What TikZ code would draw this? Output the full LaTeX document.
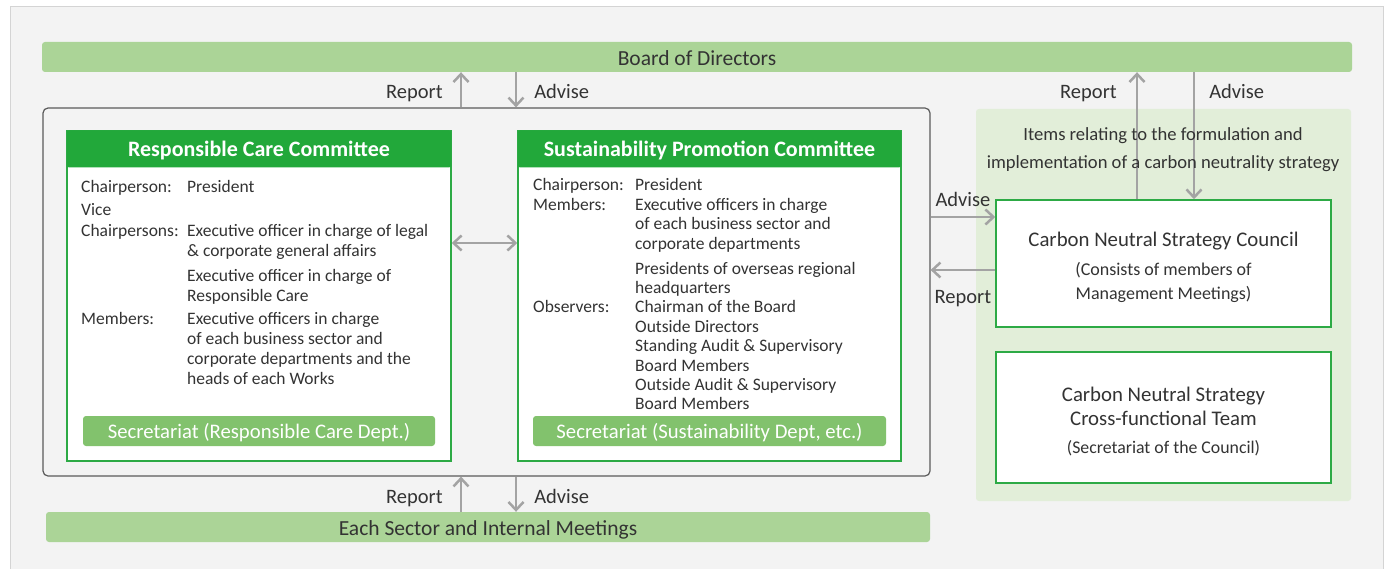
\documentclass[tikz,border=0pt]{standalone}
\usepackage{fontspec}
\setmainfont{Carlito}
\usetikzlibrary{arrows.meta}
\definecolor{panel}{HTML}{F3F3F3}
\definecolor{panelline}{HTML}{D4D4D4}
\definecolor{barg}{HTML}{ABD497}
\definecolor{headg}{HTML}{22A83A}
\definecolor{secg}{HTML}{82C26D}
\definecolor{cnpanel}{HTML}{E2EED9}
\definecolor{boxg}{HTML}{2DAA45}
\definecolor{arrgray}{HTML}{A3A3A3}
\definecolor{txt}{HTML}{333333}
\definecolor{bigline}{HTML}{5A5A5A}
\tikzset{
  bar/.style={fill=barg, rounded corners=3, inner sep=0, text height=16.5pt, text depth=0pt, text=txt, font=\fontsize{21.5}{22}\selectfont},
  cbox/.style={draw=boxg, line width=1.5, fill=white, inner sep=0},
  chead/.style={fill=headg, rounded corners=2, inner sep=0, text height=16pt, text depth=0pt, text=white, font=\bfseries\fontsize{22}{22}\selectfont},
  secbar/.style={fill=secg, rounded corners=3, inner sep=0, text height=15.3pt, text depth=0pt, text=white, font=\fontsize{20.7}{22}\selectfont},
  arr/.style={draw=arrgray, line width=2.5, -{Straight Barb[length=8pt,width=15pt]}},
  lbl/.style={inner sep=0, text=txt, font=\fontsize{20.5}{22}\selectfont},
}
\begin{document}
\begin{tikzpicture}[x=1pt,y=-1pt]
\useasboundingbox (0,0) rectangle (1388,569);
\fill[white] (0,0) rectangle (1388,569);
\draw[panelline, fill=panel] (10,575) -- (10,6) -- (1383,6) -- (1383,575);

% bars
\node[bar, minimum width=1310, minimum height=30] (board) at (697,57) {Board of Directors};
\node[bar, minimum width=884, minimum height=30] (sector) at (488,527) {Each Sector and Internal Meetings};

% committees
\node[draw=bigline, line width=1.2, rounded corners=5, minimum width=887, minimum height=368] (mgmt) at (486.5,292) {};
\node[cbox, minimum width=384, minimum height=330] (rcc) at (259,296) {};
\node[chead, minimum width=384, minimum height=37, anchor=north] (rcchead) at (rcc.north) {Responsible Care Committee};
\node[cbox, minimum width=383, minimum height=330] (spc) at (709.5,296) {};
\node[chead, minimum width=383, minimum height=37, anchor=north] (spchead) at (spc.north) {Sustainability Promotion Committee};

\node[anchor=base west, inner sep=0, text=txt, font=\fontsize{17.5}{20}\selectfont] (rcctext) at (81,193) {%
\begin{tabular}[t]{@{}p{106pt}@{}l@{}}
Chairperson: & President \\[3pt]
Vice & \\[1pt]
Chairpersons: & Executive officer in charge of legal \\
 & \& corporate general affairs \\[5pt]
 & Executive officer in charge of \\
 & Responsible Care \\[3pt]
Members: & Executive officers in charge \\
 & of each business sector and \\
 & corporate departments and the \\
 & heads of each Works
\end{tabular}};
\node[anchor=base west, inner sep=0, text=txt, font=\fontsize{17.5}{19.4}\selectfont] (spctext) at (533,191) {%
\begin{tabular}[t]{@{}p{102pt}@{}l@{}}
Chairperson: & President \\
Members: & Executive officers in charge \\
 & of each business sector and \\
 & corporate departments \\[5.5pt]
 & Presidents of overseas regional \\
 & headquarters \\
Observers: & Chairman of the Board \\
 & Outside Directors \\
 & Standing Audit \& Supervisory \\
 & Board Members \\
 & Outside Audit \& Supervisory \\
 & Board Members
\end{tabular}};
\node[secbar, minimum width=352, minimum height=30] (rccsec) at (259,431) {Secretariat (Responsible Care Dept.)};
\node[secbar, minimum width=353, minimum height=30] (spcsec) at (709.5,431) {Secretariat (Sustainability Dept, etc.)};

% carbon neutral side
\node[fill=cnpanel, rounded corners=3, minimum width=375, minimum height=392] (cn) at (1163.5,305) {};
\node[cbox, minimum width=335, minimum height=127] (council) at (1163.5,263.5) {};
\node[cbox, minimum width=335, minimum height=131] (team) at (1163.5,417.5) {};
\node[inner sep=0, align=center, text=txt, font=\fontsize{18}{24}\selectfont, yshift=-4pt] (counciltext) at (council.center)
  {{\fontsize{20.8}{24}\selectfont Carbon Neutral Strategy Council}\\[5pt](Consists of members of\\Management Meetings)};
\node[inner sep=0, align=center, text=txt, font=\fontsize{20.8}{24}\selectfont, yshift=-4pt] (teamtext) at (team.center)
  {Carbon Neutral Strategy\\Cross-functional Team\\[4pt]{\fontsize{17.8}{24}\selectfont (Secretariat of the Council)}};

% connectors
\coordinate (rx1) at (461,0);
\coordinate (rx2) at (516,0);
\coordinate (rx3) at (1137,0);
\coordinate (rx4) at (1194,0);
\coordinate (dy) at (0,243);
\coordinate (ay) at (0,217);
\coordinate (ry) at (0,270);
\draw[arr] (mgmt.north -| rx1) -- (board.south -| rx1) node[lbl, midway, left=17pt, yshift=-4pt] {Report};
\draw[arr] (board.south -| rx2) -- (mgmt.north -| rx2) node[lbl, midway, right=17pt, yshift=-2pt] {Advise};
\draw[arr] (sector.north -| rx1) -- (mgmt.south -| rx1) node[lbl, midway, left=17pt, yshift=-4pt] {Report};
\draw[arr] (mgmt.south -| rx2) -- (sector.north -| rx2) node[lbl, midway, right=17pt, yshift=-2pt] {Advise};
\draw[arr, {Straight Barb[length=8pt,width=15pt]}-{Straight Barb[length=8pt,width=15pt]}] (rcc.east |- dy) -- (spc.west |- dy);
\draw[arr] (mgmt.east |- ay) -- (council.west |- ay) node[lbl, midway, above=9pt] {Advise};
\draw[arr] (council.west |- ry) -- (mgmt.east |- ry) node[lbl, midway, below=19pt] {Report};
\draw[arr] (council.north -| rx3) -- (board.south -| rx3) node[lbl, pos=0.85, left=19pt, yshift=-2pt] {Report};
\draw[arr] (board.south -| rx4) -- (council.north -| rx4) node[lbl, pos=0.15, right=14pt] {Advise};

\node[inner sep=0, align=center, text=txt, font=\fontsize{18.6}{28}\selectfont] (items) at (1163,150)
  {Items relating to the formulation and\\implementation of a carbon neutrality strategy};
\end{tikzpicture}
\end{document}
